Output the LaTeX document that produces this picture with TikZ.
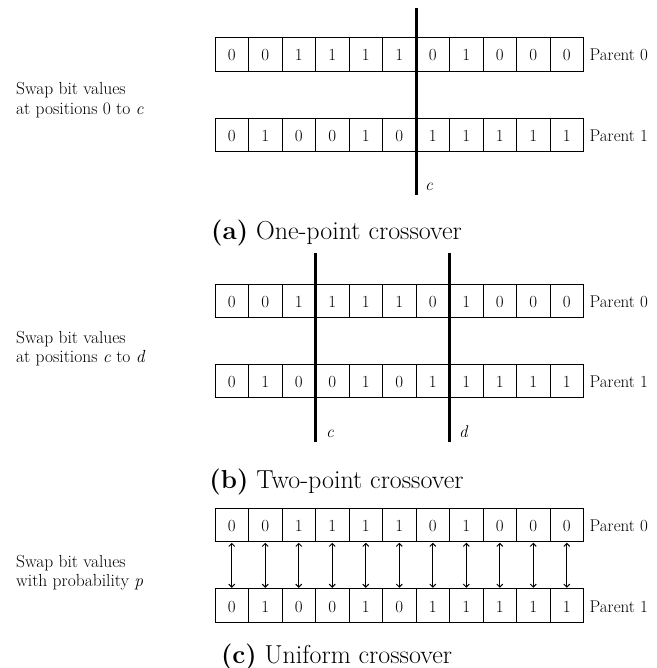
\documentclass[tikz,border=0pt]{standalone}
\usetikzlibrary{arrows.meta}
\begin{document}
\begin{tikzpicture}[x=1pt,y=-1pt,
  bit/.style={draw,line width=0.9pt,minimum width=33.5pt,minimum height=33.5pt,
    inner sep=0pt,outer sep=0pt,font=\fontsize{17}{20}\selectfont,
    text height=13pt,text depth=0pt},
  plabel/.style={anchor=west,inner sep=0pt,font=\fontsize{17}{20}\selectfont,
    text height=13pt,text depth=0pt},
  ltext/.style={anchor=base west,inner sep=0pt,font=\fontsize{17.5}{21}\selectfont},
  cutline/.style={line width=3.2pt},
  cutlab/.style={anchor=base west,inner sep=0pt,font=\fontsize{17}{20}\selectfont\itshape},
  captext/.style={anchor=base,inner sep=0pt,font=\fontsize{26}{30}\selectfont},
  swaparrow/.style={line width=1pt,shorten <=1pt,shorten >=1pt,
    {Straight Barb[length=3pt,width=6pt]}-{Straight Barb[length=3pt,width=6pt]}}
]
\useasboundingbox (0,0) rectangle (656,668);

% ---------- (a) one-point ----------
\foreach \b [count=\i from 0] in {0,0,1,1,1,1,0,1,0,0,0}
  \node[bit] (a0-\i) at ({231.75+33.5*\i},54.5) {\b};
\foreach \b [count=\i from 0] in {0,1,0,0,1,0,1,1,1,1,1}
  \node[bit] (a1-\i) at ({231.75+33.5*\i},135) {\b};
\node[plabel] (a0p) at ([xshift=6pt]a0-10.east) {Parent 0};
\node[plabel] (a1p) at ([xshift=6pt]a1-10.east) {Parent 1};
\node[ltext] (sa1) at (16,95) {Swap bit values};
\node[ltext] (sa2) at (16,114.5) {at positions 0 to \textit{c}};
\coordinate (ca-t) at (416.5,8);
\coordinate (ca-b) at (416.5,195);
\draw[cutline] (ca-t) -- (ca-b);
\node[cutlab] (ca-l) at (425,191) {c};
\node[captext] (capa) at (336.5,239) {\textbf{(a)} One-point crossover};

% ---------- (b) two-point ----------
\foreach \b [count=\i from 0] in {0,0,1,1,1,1,0,1,0,0,0}
  \node[bit] (b0-\i) at ({231.75+33.5*\i},301) {\b};
\foreach \b [count=\i from 0] in {0,1,0,0,1,0,1,1,1,1,1}
  \node[bit] (b1-\i) at ({231.75+33.5*\i},381) {\b};
\node[plabel] (b0p) at ([xshift=6pt]b0-10.east) {Parent 0};
\node[plabel] (b1p) at ([xshift=6pt]b1-10.east) {Parent 1};
\node[ltext] (sb1) at (16,343) {Swap bit values};
\node[ltext] (sb2) at (16,362.5) {at positions \textit{c} to \textit{d}};
\coordinate (cb-t) at (315.5,253);
\coordinate (cb-b) at (315.5,442);
\coordinate (db-t) at (449.5,253);
\coordinate (db-b) at (449.5,442);
\draw[cutline] (cb-t) -- (cb-b);
\draw[cutline] (db-t) -- (db-b);
\node[cutlab] (cb-l) at (326,437) {c};
\node[cutlab] (db-l) at (459,437) {d};
\node[captext] (capb) at (336.5,488) {\textbf{(b)} Two-point crossover};

% ---------- (c) uniform ----------
\foreach \b [count=\i from 0] in {0,0,1,1,1,1,0,1,0,0,0}
  \node[bit] (c0-\i) at ({231.75+33.5*\i},525) {\b};
\foreach \b [count=\i from 0] in {0,1,0,0,1,0,1,1,1,1,1}
  \node[bit] (c1-\i) at ({231.75+33.5*\i},605.5) {\b};
\node[plabel] (c0p) at ([xshift=6pt]c0-10.east) {Parent 0};
\node[plabel] (c1p) at ([xshift=6pt]c1-10.east) {Parent 1};
\foreach \i in {0,...,10}
  \draw[swaparrow] (c0-\i.south) -- (c1-\i.north);
\node[ltext] (sc1) at (16,567) {Swap bit values};
\node[ltext] (sc2) at (16,586.5) {with probability \textit{p}};
\node[captext] (capc) at (336.5,663) {\textbf{(c)} Uniform crossover};
\end{tikzpicture}
\end{document}
